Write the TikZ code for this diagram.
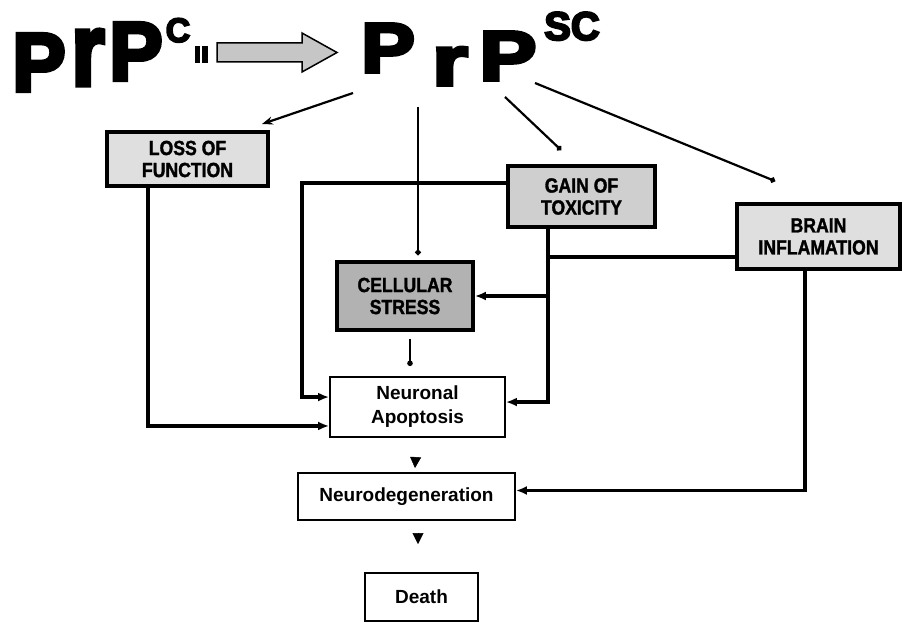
\documentclass[tikz,border=0pt]{standalone}
\usepackage{fontspec}
\usepackage{graphicx}
\setmainfont{Liberation Sans}
\newfontfamily\titlefont{Liberation Sans}[FakeBold=5]
\newfontfamily\boxfont{Liberation Sans}[FakeStretch=0.86,FakeBold=1.5]
\usetikzlibrary{arrows.meta,calc}
\begin{document}
\begin{tikzpicture}[x=1pt,y=-1pt,
  shadebox/.style={draw=black, line width=3.8pt, inner sep=0pt, align=center,
     font=\boxfont\bfseries\fontsize{20.5}{22}\selectfont},
  plainbox/.style={draw=black, line width=1.9pt, inner sep=0pt, align=center,
     font=\bfseries\fontsize{19}{24}\selectfont},
  bigletter/.style={inner sep=0pt, anchor=base, font=\titlefont\bfseries\fontsize{74}{74}\selectfont},
  midletter/.style={inner sep=0pt, anchor=base, font=\titlefont\bfseries\fontsize{70}{70}\selectfont},
  supletter/.style={inner sep=0pt, anchor=base, font=\titlefont\bfseries\fontsize{#1}{#1}\selectfont},
  conn/.style={line width=3.6pt, -{Latex[length=11pt,width=9pt]}},
  link/.style={line width=3.6pt},
  ray/.style={line width=2.2pt},
  dotend/.style={-{Circle[length=5.5pt]}},
  tri/.style={line width=0.5pt, -{Triangle[length=11pt,width=11pt]}}
]
\useasboundingbox (0,0) rectangle (903,623);

% ---- title ----
\node[bigletter] (lp1) at (39,91) {\scalebox{1.08}[1.12]{P}};
\node[bigletter] (lr) at (88,85) {\scalebox{1.15}[1.38]{r}};
\node[bigletter] (lp2) at (136,80) {\scalebox{1.08}[1.12]{P}};
\node[supletter=34] (lc) at (178,42) {C};

\fill[black] (195,46) rectangle (200,63);
\fill[black] (202,46) rectangle (208,63);
\draw[line width=1.5pt, fill=gray!45] (217,43) -- (302,43) -- (302,33) -- (337,52.5)
   -- (302,72) -- (302,62) -- (217,62) -- cycle;

\node[midletter] (rp1) at (388,72) {\scalebox{1.15}[1]{P}};
\node[midletter] (rr) at (450,85) {\scalebox{1.3}[1]{r}};
\node[midletter] (rp2) at (508,80) {\scalebox{1.22}[1]{P}};
\node[supletter=40] (rsc) at (572,40) {SC};

% ---- boxes ----
\node[shadebox, fill=gray!25, minimum width=161pt, minimum height=54pt] (loss) at (187.5,159) {LOSS OF\\FUNCTION};
\node[shadebox, fill=gray!38, minimum width=147pt, minimum height=61pt] (gain) at (581.5,196.5) {GAIN OF\\TOXICITY};
\node[shadebox, fill=gray!25, minimum width=163pt, minimum height=65pt] (brain) at (818.5,236.5) {BRAIN\\INFLAMATION};
\node[shadebox, fill=gray!60, minimum width=136pt, minimum height=68pt] (stress) at (405,296) {CELLULAR\\STRESS};
\node[plainbox, minimum width=175pt, minimum height=60pt] (na) at (417.5,407) {Neuronal\\Apoptosis};
\node[plainbox, minimum width=217pt, minimum height=47pt] (neuro) at (406.5,496.5) {Neurodegeneration};
\node[plainbox, minimum width=113pt, minimum height=48pt] (death) at (421.5,597) {Death};

% ---- rays from PrPsc ----
\coordinate (s1) at (353,93);
\coordinate (s2) at (418,107);
\coordinate (s3) at (505,97);
\coordinate (s4) at (535,83);
\draw[ray, -{Stealth[length=11pt,width=8pt]}] (s1) -- ($(loss.north east)+(-8,-6)$);
\draw[ray, dotend, shorten >=5pt] (s2) -- (s2 |- stress.north);
\draw[ray, dotend] (s3) -- ($(gain.north west)+(55,-14)$);
\draw[ray, dotend] (s4) -- ($(brain.north west)+(40,-21)$);

% ---- connectors ----
\draw[conn] ($(loss.south west)+(43,0)$) |- ($(na.south west)+(0,-12)$);
\draw[conn] ($(gain.north west)+(0,19)$) -| ($(na.north west)+(-27,21)$) -- ($(na.north west)+(0,21)$);
\coordinate (jx) at ($(gain.south west)+(42,0)$);
\draw[conn] (jx) |- ($(na.north east)+(0,26)$);
\coordinate (bj) at ($(brain.north west)+(0,55)$);
\draw[link] (bj) -- (jx |- bj);
\draw[conn] (jx |- stress.east) -- (stress.east);
\coordinate (bx) at ($(brain.south west)+(70,0)$);
\draw[conn] (bx) |- ($(neuro.east)+(0,-6)$);
\draw[line width=1.3pt, dotend] ($(stress.south)+(5,7)$) -- ($(na.north)+(-7.5,-10)$);
\draw[tri] ($(na.south)+(-2,21)$) -- ($(neuro.north)+(8.5,-4)$);
\draw[tri] ($(neuro.south)+(11.5,14)$) -- ($(death.north)+(-3.5,-28)$);
\end{tikzpicture}
\end{document}
